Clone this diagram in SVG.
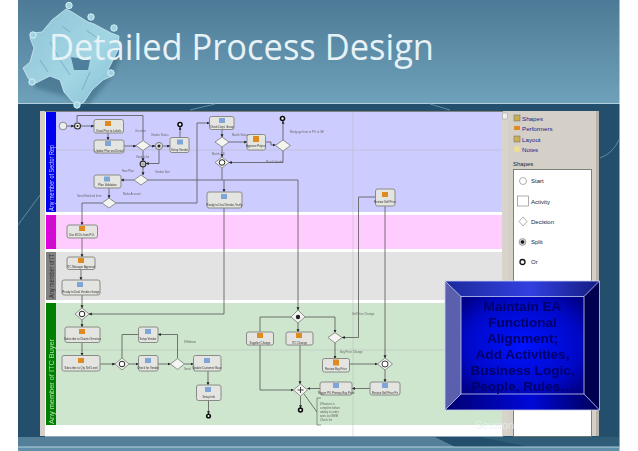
<svg xmlns="http://www.w3.org/2000/svg" width="638" height="451" viewBox="0 0 638 451">
<style>
.a{fill:#e4e4e0;stroke:#8a8a88;stroke-width:1}
.d{fill:#f4f4f0;stroke:#777;stroke-width:.8}
.c{fill:#f4f4f0;stroke:#333;stroke-width:1.2}
.e{fill:#fff;stroke:#111;stroke-width:1.6}
.s{fill:#222}
.i1{fill:#e08a20}
.i2{fill:#7fa6d8}
.t{font:2.8px "Liberation Sans",Arial,sans-serif;fill:#333;text-anchor:middle}
.l{font:2.8px "Liberation Sans",Arial,sans-serif;fill:#666}
.lane{font:7.2px "Liberation Sans",Arial,sans-serif}
.p{font:6px "Liberation Sans",Arial,sans-serif;fill:#223}
.n{font:6.2px "Liberation Sans",Arial,sans-serif;fill:#228}
.m{font:bold 13.6px "Liberation Sans",Arial,sans-serif;fill:#00006a;text-anchor:middle}
.k{fill:#9fd3e2;stroke:#d8f0f6;stroke-width:1}
#connectors path{fill:none;stroke:#555;stroke-width:.8;marker-end:url(#ah)}
#connectors path.x{marker-end:none}
</style>
<defs>
<marker id="ah" markerWidth="4" markerHeight="4" refX="2.8" refY="1.500" orient="auto" markerUnits="userSpaceOnUse"><path d="M0 0L3 1.500L0 3z" fill="#222"/></marker>
<linearGradient id="hd" x1="0" y1="0" x2="0" y2="1"><stop offset="0" stop-color="#4d7b97"/><stop offset="1" stop-color="#6fa1ba"/></linearGradient>
<linearGradient id="pz" x1="0" y1="0" x2="1" y2="1"><stop offset="0" stop-color="#8fc4d6"/><stop offset=".6" stop-color="#a3d6e4"/><stop offset="1" stop-color="#82bdd2"/></linearGradient>
<linearGradient id="bt" x1="0" y1="0" x2="1" y2="0"><stop offset="0" stop-color="#1c2a9c"/><stop offset=".55" stop-color="#3240e0"/><stop offset="1" stop-color="#141c80"/></linearGradient>
<linearGradient id="bb" x1="0" y1="0" x2="1" y2="0"><stop offset="0" stop-color="#000070"/><stop offset=".55" stop-color="#0008d8"/><stop offset="1" stop-color="#000058"/></linearGradient>
<radialGradient id="bc" cx=".5" cy=".5" r=".65"><stop offset="0" stop-color="#0014ff"/><stop offset=".7" stop-color="#0008c8"/><stop offset="1" stop-color="#000088"/></radialGradient>
<filter id="soft" x="-2%" y="-2%" width="104%" height="104%"><feGaussianBlur stdDeviation=".35"/></filter>
<filter id="blur2" x="-10%" y="-10%" width="120%" height="120%"><feGaussianBlur stdDeviation="2"/></filter>
</defs>

<rect width="638" height="451" fill="#fff"/>
<rect x="18" y="0" width="601.500" height="103" fill="url(#hd)"/>
<rect x="18" y="103" width="601.500" height="1" fill="#b4d0dc"/>
<rect x="18" y="104" width="601.500" height="343" fill="#234f6c"/>
<path d="M18 225L40 195M600 158Q612 154 619 140M190 110L215 104M430 104L450 110" fill="none" stroke="#5f8aa2" stroke-width="1"/>
<path d="M130 437L435 437L455 447L18 447L18 437Z" fill="#547f98"/>
<path d="M480 437L619 437L619 447L530 447Z" fill="#2f5d78"/>
<rect x="18" y="447" width="601.500" height="4" fill="#6090aa"/>
<rect x="18" y="446.500" width="601.500" height="1" fill="#b4d0dc"/>

<g id="puzzle">
<path fill="#2f5a74" opacity=".45" filter="url(#blur2)" d="M56 24L115 37L122 54L112 76L88 106L64 96L36 88L27 72Z"/>
<path fill="url(#pz)" stroke="#cfeaf2" stroke-width=".8" d="M52 20L66 9L72 12L88 22L94 24L111 33L119 36L118 50L108 70L112 76L103 80L92 90L84 102L78 105L72 101L64 92L60 80L50 76L38 82L33 84L28 78L23 68L30 62L34 48L30 38L33 33L42 32Z"/>
<path d="M71 57L90 60L88 70L74 70Z" fill="#4f7f9a"/>
<path d="M50 42L60 60L70 75M86 30L100 40M90 72L82 90M40 60L48 72M62 26L70 32" fill="none" stroke="#6da6bc" stroke-width=".8"/>
<circle cx="69" cy="5.500" r="3.200" class="k"/><circle cx="91" cy="17" r="3.200" class="k"/><circle cx="114" cy="28" r="3.200" class="k"/><circle cx="33" cy="35" r="3.200" class="k"/><circle cx="32" cy="82" r="3.200" class="k"/><circle cx="77" cy="105" r="3.200" class="k"/><circle cx="111" cy="73" r="3.200" class="k"/>
</g>
<text x="49" y="60" font-family="'Open Sans','Noto Sans',sans-serif" font-size="37" fill="#e6f2f6" textLength="385" lengthAdjust="spacingAndGlyphs">Detailed Process Design</text>

<g id="window">
<rect x="40" y="111" width="559" height="325" fill="#d4d0c8"/>
<rect x="45" y="111.500" width="458" height="325" fill="#fff"/>
<rect x="56" y="112" width="446" height="100" fill="#ccccff"/>
<rect x="56" y="215" width="446" height="34" fill="#ffccff"/>
<rect x="56" y="252" width="446" height="48" fill="#e3e3e3"/>
<rect x="56" y="303" width="446" height="122" fill="#cde6cd"/>
<rect x="46" y="112" width="10" height="100" fill="#0000f0"/>
<rect x="46" y="215" width="10" height="34" fill="#e000e0"/>
<rect x="46" y="252" width="10" height="48" fill="#808080"/>
<rect x="46" y="303" width="10" height="122" fill="#008000"/>
<path d="M353 112V436M56 150H502M56 350H502" fill="none" stroke="#bbb" stroke-width=".5"/>
<path d="M45 111.500H503" stroke="#666" stroke-width=".8"/>
<rect x="502" y="112" width="6" height="324" fill="#d8d4cc"/>
<rect x="502.500" y="113" width="5" height="6" fill="#eee" stroke="#888" stroke-width=".4"/>
<rect x="513.500" y="169.500" width="78" height="267" fill="#fff" stroke="#666" stroke-width=".8"/>
<rect x="596" y="111" width="3" height="325" fill="#b8b4ac"/>
<rect x="514" y="115" width="6" height="6" fill="#c8b050" stroke="#667" stroke-width=".5"/>
<rect x="514" y="126" width="6" height="4" fill="#e08a20"/>
<rect x="514" y="136" width="6" height="6" fill="#c8b050" stroke="#667" stroke-width=".5"/>
<circle cx="517" cy="149" r="3" fill="#ece090"/>
<text class="n" x="522" y="121">Shapes</text>
<text class="n" x="522" y="131">Performers</text>
<text class="n" x="522" y="142">Layout</text>
<text class="n" x="522" y="152">Notes</text>
<text class="p" x="513" y="166">Shapes</text>
<circle cx="523" cy="181" r="3.500" fill="#fff" stroke="#777" stroke-width=".6"/>
<rect x="517.500" y="196" width="11" height="10" fill="#fff" stroke="#777" stroke-width=".6"/>
<path d="M523 217L527 221.500L523 226L519 221.500Z" fill="#fff" stroke="#777" stroke-width=".6"/>
<circle cx="522.500" cy="242" r="3.500" fill="#ccc" stroke="#777" stroke-width=".5"/><circle cx="522.500" cy="242" r="1.800" fill="#111"/>
<circle cx="522.500" cy="262" r="2.500" fill="#fff" stroke="#111" stroke-width="1.300"/>
<text class="p" x="531" y="183">Start</text>
<text class="p" x="531" y="204">Activity</text>
<text class="p" x="531" y="224">Decision</text>
<text class="p" x="531" y="244">Split</text>
<text class="p" x="531" y="264">Or</text>
</g>

<g filter="url(#soft)">
<text class="lane" transform="translate(54 211) rotate(-90)" fill="#c8c8ff" textLength="66" lengthAdjust="spacingAndGlyphs">Any member of Sector Rep</text>
<text class="lane" transform="translate(54 248) rotate(-90)" fill="#a030a0" textLength="33" lengthAdjust="spacingAndGlyphs">Any member</text>
<text class="lane" transform="translate(54 298) rotate(-90)" fill="#333" textLength="44" lengthAdjust="spacingAndGlyphs">Any member of IT</text>
<text class="lane" transform="translate(54 424) rotate(-90)" fill="#b0e0b0" textLength="85" lengthAdjust="spacingAndGlyphs">Any member of ITC Buyer</text>

<g id="connectors">
<path d="M67 126H74"/><path d="M81 126H94"/>
<path class="x" d="M77 122V115.500H143V140"/>
<path d="M108 133V140"/><path d="M124 146H136"/><path d="M150 146H155"/><path d="M163 146H170"/>
<path d="M180 137.500V127"/><path d="M159 150V163.500H146"/><path d="M143 151V161"/><path d="M143 167V175"/>
<path d="M134 180H121"/><path d="M109 188V198"/>
<path d="M102 203H82V225"/>
<path d="M116 203H197V123H209.500"/>
<path d="M148 180H298V310"/>
<path d="M224 180V192"/>
<path d="M224 208V314H89"/>
<path d="M222 129.500V137"/><path d="M222 147V157"/><path d="M229 142H247"/>
<path d="M265.500 142H271V145H275.500"/><path d="M283 140V121"/><path d="M283 151V162.500H229"/><path class="x" d="M222 168V180"/>
<path d="M82 238V257"/><path d="M81 269V280"/><path d="M82 295V308"/><path d="M82 320V327"/><path d="M82 342.500V355.500"/>
<path d="M100 364H115"/><path d="M129 364H138.500"/><path d="M158 364H170.500"/>
<path class="x" d="M122 358V334.500H138.500"/><path d="M177.500 358.500V334.500H158"/>
<path d="M184.500 364H193.500"/><path d="M208 371V385"/><path d="M208.500 400.500V414"/>
<path d="M375.500 197H358.500V337.500H342"/>
<path d="M385 206V358"/><path d="M385 370V382"/><path d="M349.500 364H377.500"/>
<path d="M370 388.500H352"/><path d="M320 388.500H307.500"/>
<path d="M335 343V358.500"/>
<path class="x" d="M291 317H260V332"/><path d="M298 323V332"/><path d="M305 317H335V332.500"/>
<path d="M260 345V390H293.500"/><path d="M300 345V384"/><path d="M300.500 396V408"/>
<path class="x" d="M304 394L317 412"/>
<path class="x" d="M321 398H317V425H321" style="stroke-width:.6"/>
</g>

<g id="start"><circle cx="63" cy="126" r="3.800" fill="#eee" stroke="#666" stroke-width=".7"/></g>
<g id="or1"><circle cx="77.500" cy="126" r="3" class="c"/><circle cx="77.500" cy="126" r="1.100" class="s"/></g>
<g id="a1"><rect class="a" x="94" y="119.500" width="29.500" height="13.500" rx="2"/><rect class="i1" x="105" y="121" width="6" height="5"/><text class="t" x="108.800" y="131.500">Draw Plan to Labels</text></g>
<g id="a2"><rect class="a" x="94" y="140" width="30" height="13" rx="2"/><rect class="i2" x="105" y="141" width="6" height="5"/><text class="t" x="109" y="151.500">Update Plan and Detail</text></g>
<g id="d1"><path class="d" d="M143 140.500L150 145.500L143 150.500L136 145.500Z"/></g>
<g id="split1"><circle cx="159" cy="146" r="3.600" fill="#ddd" stroke="#555" stroke-width=".7"/><circle cx="159" cy="146" r="1.500" class="s"/></g>
<g id="a3"><rect class="a" x="170" y="137.500" width="19" height="15" rx="2"/><rect class="i2" x="177" y="139.500" width="6" height="5"/><text class="t" x="179.500" y="150.500">Setup Vendor</text></g>
<g id="end1"><circle cx="180" cy="124.500" r="2" class="e"/></g>
<g id="or2"><circle cx="143" cy="164" r="2.800" class="c"/><circle cx="143" cy="164" r="1.200" fill="#fff" stroke="#222" stroke-width=".5"/></g>
<g id="d2"><path class="d" d="M141 175L148 180L141 185L134 180Z"/></g>
<g id="a4"><rect class="a" x="94" y="175" width="27" height="13" rx="2"/><rect class="i2" x="104" y="176.500" width="6" height="5"/><text class="t" x="107.500" y="186">Plan Validation</text></g>
<g id="d3"><path class="d" d="M109 198L116 203L109 208L102 203Z"/></g>
<g id="a5"><rect class="a" x="209.500" y="116.500" width="24.500" height="13" rx="2"/><rect class="i2" x="219" y="118" width="6" height="5"/><text class="t" x="221.800" y="127.500">Check Dept. Group</text></g>
<g id="d4"><path class="d" d="M222 137L229 142L222 147L215 142Z"/></g>
<g id="or3"><path class="d" d="M222 157L229 162.500L222 168L215 162.500Z"/><circle cx="222" cy="162.500" r="2.800" fill="#fff" stroke="#222" stroke-width="1"/></g>
<g id="a6"><rect class="a" x="247" y="134.500" width="18.500" height="15.500" rx="2"/><rect class="i1" x="253" y="136" width="6" height="6"/><text class="t" x="256" y="147">Approve Project</text></g>
<g id="d5"><path class="d" d="M283 140L290.500 145.500L283 151L275.500 145.500Z"/></g>
<g id="end2"><circle cx="282.500" cy="118.500" r="2" class="e"/></g>
<g id="a7"><rect class="a" x="207" y="192" width="35" height="16" rx="2"/><rect class="i2" x="221" y="194" width="6" height="5"/><text class="t" x="224.500" y="206">Ready to Deal Vendor, Verify</text></g>
<g id="a8"><rect class="a" x="375.500" y="189" width="19.500" height="17" rx="2"/><rect class="i1" x="382" y="192" width="6" height="5"/><text class="t" x="385" y="203">Review Sell Price</text></g>
<g id="a9"><rect class="a" x="67" y="225" width="30.500" height="13" rx="2"/><rect class="i1" x="79" y="226" width="6" height="5"/><text class="t" x="82" y="236">Use ECOs from P.O.</text></g>
<g id="a10"><rect class="a" x="67" y="257" width="28" height="12.500" rx="2"/><rect class="i1" x="78" y="258" width="6" height="5"/><text class="t" x="81" y="268">ITC Manager Approval</text></g>
<g id="a11"><rect class="a" x="62" y="280" width="38" height="15" rx="2"/><rect class="i2" x="77" y="282" width="6" height="5"/><text class="t" x="81" y="293">Ready to Deal Vendor change</text></g>
<g id="or4"><path class="d" d="M82 308L89 314L82 320L75 314Z"/><circle cx="82" cy="314" r="2.800" fill="#fff" stroke="#222" stroke-width="1"/></g>
<g id="a12"><rect class="a" x="65" y="327" width="35" height="15.500" rx="2"/><rect class="i1" x="79" y="329" width="6" height="5"/><text class="t" x="82.500" y="340">Subscribe to Charter Services</text></g>
<g id="a13"><rect class="a" x="62" y="355.500" width="38" height="15.500" rx="2"/><rect class="i1" x="78" y="358" width="6" height="5"/><text class="t" x="81" y="369">Subscribe to Qty Sell Level</text></g>
<g id="or5"><path class="d" d="M122 358L129 364L122 370L115 364Z"/><circle cx="122" cy="364" r="2.800" fill="#fff" stroke="#222" stroke-width="1"/></g>
<g id="a14"><rect class="a" x="138.500" y="327" width="19.500" height="15.500" rx="2"/><rect class="i2" x="145" y="329" width="6" height="5"/><text class="t" x="148" y="340">Setup Vendor</text></g>
<g id="a15"><rect class="a" x="138.500" y="355.500" width="19.500" height="15.500" rx="2"/><rect class="i2" x="145" y="358" width="6" height="5"/><text class="t" x="148" y="369">Check for Vendor</text></g>
<g id="d6"><path class="d" d="M177.500 358.500L184.500 364L177.500 369.500L170.500 364Z"/></g>
<g id="a16"><rect class="a" x="193.500" y="355.500" width="27.500" height="15.500" rx="2"/><rect class="i2" x="204" y="358" width="6" height="5"/><text class="t" x="207" y="369">Update Customer Base</text></g>
<g id="a17"><rect class="a" x="196.500" y="385" width="24.500" height="15.500" rx="2"/><rect class="i2" x="205" y="387" width="6" height="5"/><text class="t" x="208.800" y="398">Setup Info</text></g>
<g id="end3"><circle cx="208.500" cy="416" r="1.800" class="e"/></g>
<g id="split2"><path class="d" d="M298 310L305 317L298 323L291 317Z"/><circle cx="298" cy="317" r="2.200" fill="#222"/></g>
<g id="a18"><rect class="a" x="246.500" y="332" width="27" height="13" rx="2"/><rect class="i1" x="257" y="333" width="6" height="5"/><text class="t" x="260" y="343.500">Supplier Change</text></g>
<g id="a19"><rect class="a" x="286" y="332" width="27" height="13" rx="2"/><rect class="i1" x="296" y="333" width="6" height="5"/><text class="t" x="299.500" y="343.500">ITC Change</text></g>
<g id="d7"><path class="d" d="M335 332.500L342 337.500L335 343L328 337.500Z"/></g>
<g id="a20"><rect class="a" x="322.500" y="358.500" width="27" height="13.500" rx="2"/><rect class="i1" x="333" y="359.500" width="6" height="6"/><text class="t" x="336" y="370">Review Buy Price</text></g>
<g id="or6"><path class="d" d="M385 358L392.500 364L385 370L377.500 364Z"/><circle cx="385" cy="364" r="3" fill="#fff" stroke="#222" stroke-width=".9"/></g>
<g id="a21"><rect class="a" x="320" y="382" width="32" height="13" rx="2"/><rect class="i2" x="333" y="383" width="6" height="5"/><text class="t" x="336" y="393.500">Trigger PO Primary Buy Push</text></g>
<g id="a22"><rect class="a" x="370" y="382" width="30" height="13" rx="2"/><rect class="i2" x="382" y="383" width="6" height="5"/><text class="t" x="385" y="393.500">Review Sell Price Po</text></g>
<g id="plus"><path class="d" d="M300.500 384L307.500 390L300.500 396L293.500 390Z"/><path d="M297.500 390H303.500M300.500 387V393" stroke="#333" stroke-width=".9"/></g>
<g id="end4"><circle cx="300.500" cy="410" r="1.900" class="e"/></g>
<g id="labels">
<text class="l" x="135" y="132">On order</text><text class="l" x="151" y="136">Vendor Status</text><text class="l" x="136" y="158">Vendor list</text><text class="l" x="155" y="173">Vendor Sort</text><text class="l" x="122" y="172">New Plan</text><text class="l" x="123" y="195">Make Account</text><text class="l" x="77" y="197">Send Matched Item</text>
<text class="l" x="232" y="136">Match Status</text><text class="l" x="212" y="155">Match # S.</text><text class="l" x="266" y="163">Match Vendor</text><text class="l" x="290" y="133">Mortgage Item or PO or SE</text>
<text class="l" x="184" y="343">Withdraw</text><text class="l" x="184" y="370">Send</text>
<text class="l" x="352" y="315">Sell Price Change</text><text class="l" x="340" y="353">Buy Price Change</text>
<text class="l" x="320" y="405">Whatever is</text><text class="l" x="320" y="409">complete before</text><text class="l" x="320" y="413">adding to order</text><text class="l" x="320" y="417">work out IBEM</text><text class="l" x="320" y="421" fill="#999">Check list</text>
</g>
</g>

<g id="callout">
<rect x="445" y="281" width="154.500" height="129" fill="#0000a0"/>
<polygon points="445,281 599.500,281 584,296.500 461,296.500" fill="url(#bt)"/>
<polygon points="445,281 461,296.500 461,394 445,410" fill="#5a60ae"/>
<polygon points="599.500,281 584,296.500 584,394 599.500,410" fill="#000050"/>
<polygon points="445,410 461,394 584,394 599.500,410" fill="url(#bb)"/>
<rect x="461" y="296.500" width="123" height="97.500" fill="url(#bc)"/>
<path d="M445 281H599.500V410H445ZM445 281L461 296.500M599.500 281L584 296.500M445 410L461 394M599.500 410L584 394M461 296.500H584V394H461Z" fill="none" stroke="#c8d0f4" stroke-width=".8"/>
<g filter="url(#soft)">
<text class="m" x="522.500" y="311">Maintain EA</text>
<text class="m" x="522.500" y="327">Functional</text>
<text class="m" x="522.500" y="343">Alignment;</text>
<text class="m" x="522.500" y="359">Add Activities,</text>
<text class="m" x="522.500" y="375">Business Logic,</text>
<text class="m" x="522.500" y="391">People, Rules…</text>
</g>
</g>
<text x="475" y="429" font-family="'Liberation Sans',Arial,sans-serif" font-size="11" fill="#e8eef0" opacity=".8">Session</text>
</svg>
